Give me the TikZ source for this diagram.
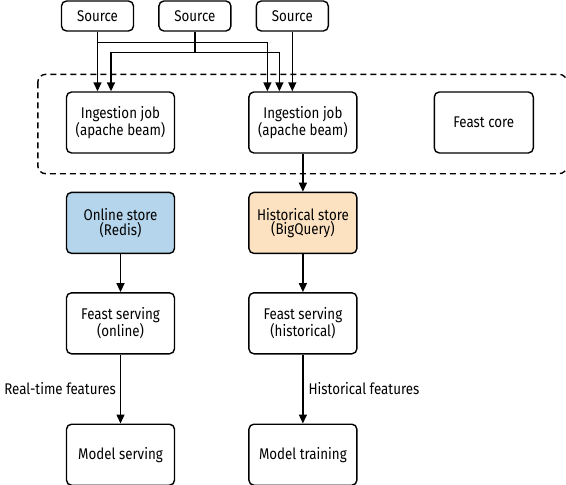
\documentclass[tikz,border=0pt]{standalone}
\usepackage{fontspec}
\setmainfont{Fira Sans}[FakeStretch=0.86]
\usepackage{tikz}
\usetikzlibrary{positioning, calc, arrows.meta}
\definecolor{onlineblue}{RGB}{180,213,235}
\definecolor{historange}{RGB}{253,226,194}
\tikzset{box/.style={draw, line width=1.4pt, rounded corners=5pt, minimum width=108pt, minimum height=61pt, align=center, font=\fontsize{15.5}{14.5}\selectfont}}
\tikzset{srcbox/.style={box, minimum width=72pt, minimum height=30pt}}
\tikzset{flow/.style={->, line width=1.4pt}}

\begin{document}
\begin{tikzpicture}[x=1pt, y=1pt, >={Triangle[width=8pt,length=9pt]}]
      \useasboundingbox (0,0) rectangle (566,-485);

      \node[srcbox] (src1) at (97.5,-16) {Source};
      \node[srcbox] (src2) [right=24pt of src1] {Source};
      \node[srcbox] (src3) [right=24pt of src2] {Source};

      \node[box] (ing1) at (120.5,-122.5) {Ingestion job\\(apache beam)};
      \node[box] (ing2) [right=73pt of ing1] {Ingestion job\\(apache beam)};
      \node[box, minimum width=99pt] (core) [right=76pt of ing2] {Feast core};

      \node[box, fill=onlineblue] (online) [below=38pt of ing1] {Online store\\(Redis)};
      \node[box, fill=historange] (hist) [below=38pt of ing2] {Historical store\\(BigQuery)};

      \node[box] (serve1) [below=38pt of online] {Feast serving\\(online)};
      \node[box] (serve2) [below=38pt of hist] {Feast serving\\(historical)};

      \node[box] (model1) [below=69pt of serve1] {Model serving};
      \node[box] (model2) [below=69pt of serve2] {Model training};

      \draw[line width=1.4pt, dash pattern=on 6pt off 4pt, rounded corners=8pt]
        ($(ing1.north west)+(-28,17)$) rectangle ($(core.south east)+(33,-20)$);

      \coordinate (bus1) at ($(src1.south)+(0,-11)$);
      \coordinate (bus2) at ($(src2.south)+(0,-21)$);
      \draw[flow] (src1.south) -- (src1 |- ing1.north);
      \draw[flow] (bus1) -| ($(ing2.north)+(-35.5,0)$);
      \draw[line width=1.4pt] (src2.south) -- (bus2);
      \draw[flow] (bus2) -| ($(ing1.north)+(-9.5,0)$);
      \draw[flow] (bus2) -| ($(ing2.north)+(-23.5,0)$);
      \draw[flow] (src3.south) -- (src3 |- ing2.north);

      \draw[flow] (ing2) -- (hist);
      \draw[flow] (online) -- (serve1);
      \draw[flow] (hist) -- (serve2);
      \draw[flow] (serve1) -- node[left, font=\fontsize{15.5}{14.5}\selectfont, inner sep=4pt] {Real-time features} (model1);
      \draw[flow] (serve2) -- node[right, font=\fontsize{15.5}{14.5}\selectfont, inner sep=5pt] {Historical features} (model2);

    \end{tikzpicture}
\end{document}
